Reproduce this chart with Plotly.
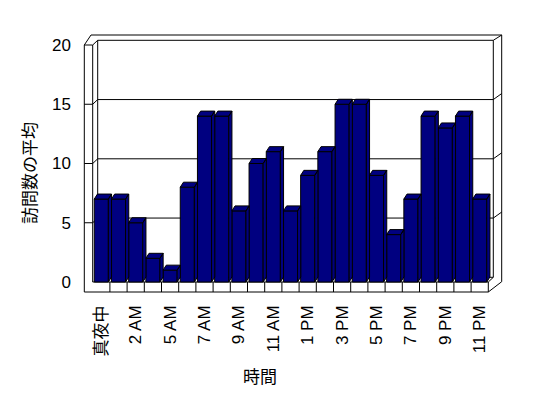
import plotly.graph_objects as go

# ---------------- data ----------------
hour_labels = ["真夜中", "1 AM", "2 AM", "3 AM", "5 AM", "6 AM", "7 AM", "8 AM",
               "9 AM", "10 AM", "11 AM", "12 PM", "1 PM", "2 PM", "3 PM", "4 PM",
               "5 PM", "6 PM", "7 PM", "8 PM", "9 PM", "10 PM", "11 PM"]
avg_visits = [7, 7, 5, 2, 1, 8, 14, 14, 6, 10, 11, 6, 9, 11, 15, 15, 9, 4, 7, 14, 13, 14, 7]
y_ticks = [0, 5, 10, 15, 20]
x_title = "時間"
y_title = "訪問数の平均"

# ---------------- geometry (pixel-derived layout constants, reference coords) ----------------
W, H = 548, 398
OFF = 8        # page body margin of the rendered html
ML, MR, MT, MB = 83, 45, 33, 104
SX = 17.2      # px per category
SY = 11.85     # px per value unit
FX0 = 92.7     # px of category -0.5 on front plane
FY0 = 282.0    # px of value 0 on front plane


def px_x(p):
    return -0.5 + (p - FX0) / SX


def px_y(p):
    return (FY0 - p) / SY


n = len(hour_labels)
ymax = y_ticks[-1]
xr = [px_x(ML), px_x(W - MR)]
yr = [px_y(H - MB), px_y(MT)]

dwx, dwy = 5.0 / SX, 4.7 / SY          # wall depth
dbx, dby = 3.2 / SX, 5.0 / SY          # bar depth
bw = 0.82
hw = bw / 2

fl, fr = -0.5, n - 0.5
wo = px_x(84.3)
fb = px_y(292)
otl_x = px_x(91)
oyt = px_y(35)
ox1 = px_x(501.7)
bx0, bx1 = fl + dwx, fr + dwx
by0, byt = dwy, ymax + dwy
odY = 6.0 / SY

segs = [
    (wo, fb, wo, ymax), (fl, 0, fl, ymax), (wo, ymax, fl, ymax),
    (wo, ymax, otl_x, oyt), (fl, ymax, bx0, byt),
    (otl_x, oyt, ox1, oyt), (bx0, byt, bx1, byt),
    (bx0, byt, bx0, by0), (bx1, byt, ox1, oyt), (bx1, byt, bx1, by0),
    (ox1, oyt, ox1, px_y(281.7)),
    (fl, 0, fr, 0), (wo, fb, fr, fb), (fr, 0, fr, fb),
    (fr, fb, ox1, px_y(281.7)), (fr, 0, bx1, by0), (bx0, by0, bx1, by0),
]
for k in range(1, n):
    segs.append((k - 0.5, 0, k - 0.5, fb))
for v in y_ticks[1:-1]:
    segs += [(wo, v, fl, v), (fl, v, bx0, v + dwy), (bx0, v + dwy, bx1, v + dwy),
             (bx1, v + dwy, ox1, v + dwy + odY)]

shapes = [dict(type="line", xref="x", yref="y", x0=a, y0=b, x1=c, y1=d,
               line=dict(color="black", width=1), layer="below")
          for a, b, c, d in segs]

fig = go.Figure()

fig.add_trace(go.Bar(
    x=list(range(n)), y=avg_visits, width=bw,
    marker=dict(color="#000080", line=dict(color="black", width=1)),
    hoverinfo="skip", showlegend=False,
))

for i, v in enumerate(avg_visits):
    xs = [i - hw, i + hw, i + hw + dbx, i - hw + dbx, i - hw, None,
          i + hw, i + hw, i + hw + dbx, i + hw + dbx, i + hw]
    ys = [v, v, v + dby, v + dby, v, None,
          0, v, v + dby, dby, 0]
    fig.add_trace(go.Scatter(
        x=xs, y=ys, mode="lines", fill="toself", fillcolor="#000080",
        line=dict(color="black", width=1), hoverinfo="skip", showlegend=False,
    ))

font_fam = "Liberation Sans, Arial, Noto Sans CJK JP, sans-serif"

pw, ph = W - ML - MR, H - MT - MB


def paper_x(p):
    return (p - ML) / pw


def paper_y(p):
    return (H - MB - p) / ph


fig.update_layout(
    width=W - OFF, height=H - OFF,
    margin=dict(l=ML - OFF, r=MR, t=MT - OFF, b=MB, pad=0, autoexpand=False),
    paper_bgcolor="white", plot_bgcolor="white",
    font=dict(family=font_fam, size=16, color="black"),
    shapes=shapes,
    xaxis=dict(range=xr, showgrid=False, zeroline=False, showline=False,
               automargin=False, fixedrange=True,
               tickmode="array", tickvals=list(range(n))[::2],
               ticktext=hour_labels[::2], tickangle=-90, ticks="",
               ticklabelstandoff=7, tickfont=dict(size=17, color="black")),
    yaxis=dict(range=yr, showgrid=False, zeroline=False, showline=False,
               automargin=False, fixedrange=True,
               tickmode="array", tickvals=y_ticks, ticks="",
               ticklabelstandoff=11, tickfont=dict(size=17, color="black")),
    annotations=[
        dict(text=x_title, x=paper_x(260), y=paper_y(377), xref="paper", yref="paper",
             xanchor="center", yanchor="middle", showarrow=False, font=dict(size=17)),
        dict(text=y_title, x=paper_x(30), y=paper_y(173), xref="paper", yref="paper",
             xanchor="center", yanchor="middle",
             showarrow=False, textangle=-90, font=dict(size=17)),
    ],
)

fig.write_html("out.html", config={"displayModeBar": False})
